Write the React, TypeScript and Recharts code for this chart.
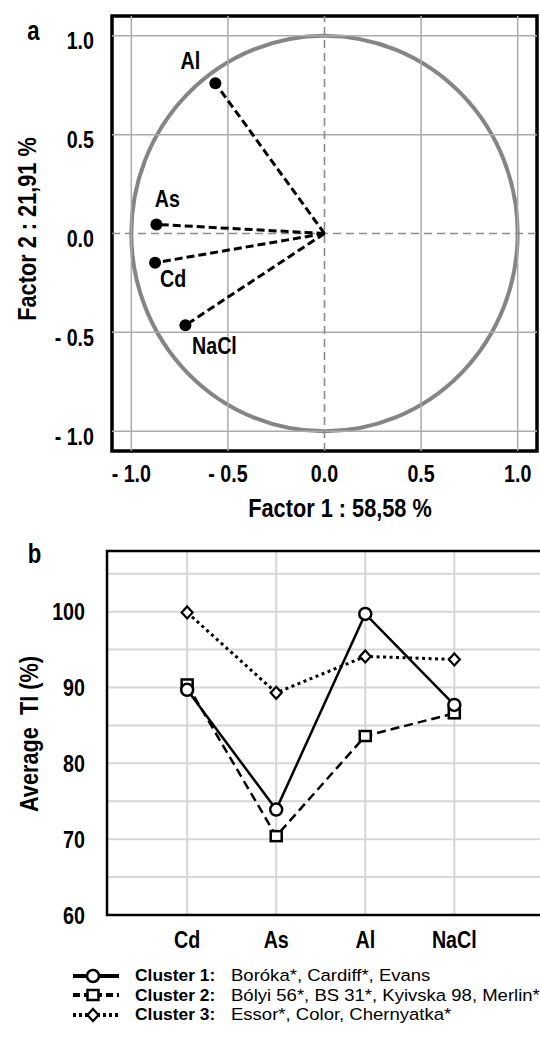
import React from 'react'
import {
  ScatterChart,
  Scatter,
  LineChart,
  Line,
  XAxis,
  YAxis,
  CartesianGrid,
  ReferenceLine,
  ReferenceArea,
} from 'recharts'

// panel a: factor loadings
const VARIABLES = ['Al', 'As', 'Cd', 'NaCl']
const FACTOR_1 = [-0.565, -0.87, -0.877, -0.72]
const FACTOR_2 = [0.76, 0.046, -0.148, -0.464]
const PCA_TICKS = [-1, -0.5, 0, 0.5, 1]

// panel b: average tolerance index per cluster
const STRESSES = ['Cd', 'As', 'Al', 'NaCl']
const CLUSTER_1 = [89.7, 73.9, 99.7, 87.7]
const CLUSTER_2 = [90.4, 70.4, 83.6, 86.6]
const CLUSTER_3 = [99.9, 89.3, 94.1, 93.7]
const TI_TICKS = [60, 65, 70, 75, 80, 85, 90, 95, 100, 105]
const CLUSTER_NAMES = ['Cluster 1:', 'Cluster 2:', 'Cluster 3:']
const CLUSTER_MEMBERS = [
  'Boróka*, Cardiff*, Evans',
  'Bólyi 56*, BS 31*, Kyivska 98, Merlin*',
  'Essor*, Color, Chernyatka*',
]

// no narrow face installed, so bold text gets squeezed horizontally
const FONT = '"Liberation Sans", Arial, sans-serif'
const NARROW = 0.82
const LABEL_OFFSETS: Record<string, [number, number]> = {
  Al: [-25, -23],
  As: [11, -26],
  Cd: [18, 16],
  NaCl: [29, 20],
}

const loadings = VARIABLES.map((name, i) => ({ name, x: FACTOR_1[i], y: FACTOR_2[i] }))
const tiRows = STRESSES.map((name, i) => ({
  pos: i + 1,
  name,
  c1: CLUSTER_1[i],
  c2: CLUSTER_2[i],
  c3: CLUSTER_3[i],
}))

const SERIES = [
  { key: 'c1', dash: undefined as string | undefined, width: 2.5, marker: 'circle' },
  { key: 'c2', dash: '9 5', width: 2.5, marker: 'square' },
  { key: 'c3', dash: '3 3.5', width: 3, marker: 'diamond' },
]

const fmtPca = (v: number) => (v < 0 ? `- ${Math.abs(v).toFixed(1)}` : v.toFixed(1))

function NarrowText({
  x,
  y,
  size,
  anchor = 'middle',
  angle = 0,
  dy = '0',
  children,
}: {
  x: number
  y: number
  size: number
  anchor?: string
  angle?: number
  dy?: string
  children: React.ReactNode
}) {
  return (
    <g transform={`translate(${x},${y}) rotate(${angle}) scale(${NARROW},1)`}>
      <text
        x={0}
        y={0}
        dy={dy}
        textAnchor={anchor as any}
        fontSize={size}
        fontWeight={700}
        fontFamily={FONT}
        fill="#000"
      >
        {children}
      </text>
    </g>
  )
}

const bottomTick = (fmt: (v: number) => string) => (p: any) => (
  <NarrowText key={`bt${p.index}`} x={p.x} y={p.y} size={24} dy="0.72em">
    {fmt(p.payload.value)}
  </NarrowText>
)

const leftTick = (fmt: (v: number) => string, shift: number) => (p: any) => (
  <NarrowText key={`lt${p.index}`} x={p.x} y={p.y + shift} size={24} anchor="end" dy="0.36em">
    {fmt(p.payload.value)}
  </NarrowText>
)

function Marker({ kind, cx, cy }: { kind: string; cx: number; cy: number }) {
  const common = { fill: '#fff', stroke: '#000', strokeWidth: 2.5 }
  if (kind === 'circle') return <circle cx={cx} cy={cy} r={6} {...common} />
  if (kind === 'square') return <rect x={cx - 5.5} y={cy - 5} width={11} height={10} {...common} />
  return (
    <polygon
      points={`${cx},${cy - 6} ${cx + 5.5},${cy} ${cx},${cy + 6} ${cx - 5.5},${cy}`}
      {...common}
      strokeWidth={2.2}
    />
  )
}

const renderLoading = (p: any) => {
  const [dx, dy] = LABEL_OFFSETS[p.payload.name] ?? [0, -20]
  return (
    <g>
      <circle cx={p.cx} cy={p.cy} r={6} fill="#000" />
      <NarrowText x={p.cx + dx} y={p.cy + dy} size={24} dy="0.36em">
        {p.payload.name}
      </NarrowText>
    </g>
  )
}

function PanelA() {
  return (
    <ScatterChart width={540} height={521} margin={{ top: 16, right: 3, left: 32, bottom: 0 }}>
      <XAxis
        type="number"
        dataKey="x"
        domain={[-1.1, 1.1]}
        ticks={PCA_TICKS}
        axisLine={false}
        tickLine={false}
        tickSize={0}
        tickMargin={14}
        height={70}
        tick={bottomTick(fmtPca)}
      />
      <YAxis
        type="number"
        dataKey="y"
        domain={[-1.1, 1.1]}
        ticks={PCA_TICKS}
        axisLine={false}
        tickLine={false}
        tickSize={0}
        tickMargin={18}
        width={80}
        tick={leftTick(fmtPca, 5)}
      />
      {PCA_TICKS.filter((t) => t !== 0).map((t) => (
        <ReferenceLine key={`gx${t}`} x={t} stroke="#ababab" strokeWidth={1.5} />
      ))}
      {PCA_TICKS.filter((t) => t !== 0).map((t) => (
        <ReferenceLine key={`gy${t}`} y={t} stroke="#ababab" strokeWidth={1.5} />
      ))}
      <ReferenceLine x={0} stroke="#8c8c8c" strokeWidth={1.6} strokeDasharray="8 5" />
      <ReferenceLine y={0} stroke="#8c8c8c" strokeWidth={1.6} strokeDasharray="8 5" />
      <ReferenceArea
        x1={-1}
        x2={1}
        y1={-1}
        y2={1}
        shape={(p: any) => (
          <ellipse
            cx={p.x + p.width / 2}
            cy={p.y + p.height / 2}
            rx={p.width / 2}
            ry={p.height / 2}
            fill="none"
            stroke="#858585"
            strokeWidth={4}
          />
        )}
      />
      <ReferenceArea
        x1={-1.1}
        x2={1.1}
        y1={-1.1}
        y2={1.1}
        fill="none"
        fillOpacity={0}
        stroke="#000"
        strokeWidth={3.5}
      />
      {loadings.map((d) => (
        <ReferenceLine
          key={`v${d.name}`}
          segment={[
            { x: 0, y: 0 },
            { x: d.x, y: d.y },
          ]}
          stroke="#000"
          strokeWidth={3}
          strokeDasharray="8 4"
        />
      ))}
      <Scatter data={loadings} isAnimationActive={false} shape={renderLoading} />
    </ScatterChart>
  )
}

function PanelB() {
  return (
    <LineChart width={600} height={415} data={tiRows} margin={{ top: 11, right: 21, left: 27, bottom: 0 }}>
      <CartesianGrid stroke="#d6d6d6" strokeWidth={2} />
      <XAxis
        type="number"
        dataKey="pos"
        domain={[0.1, 5.4]}
        ticks={[1, 2, 3, 4]}
        axisLine={false}
        tickLine={false}
        tickSize={0}
        tickMargin={16}
        height={40}
        tick={bottomTick((v) => STRESSES[v - 1] ?? '')}
      />
      <YAxis
        type="number"
        domain={[60, 108]}
        ticks={TI_TICKS}
        axisLine={false}
        tickLine={false}
        tickSize={0}
        tickMargin={22}
        width={80}
        tick={leftTick((v) => (v % 10 === 0 ? String(v) : ''), 0)}
      />
      <ReferenceArea
        x1={0.1}
        x2={5.4}
        y1={60}
        y2={108}
        fill="none"
        fillOpacity={0}
        stroke="#000"
        strokeWidth={2.5}
      />
      {[SERIES[2], SERIES[1], SERIES[0]].map((s) => (
        <Line
          key={s.key}
          dataKey={s.key}
          type="linear"
          stroke="#000"
          strokeWidth={s.width}
          strokeDasharray={s.dash}
          isAnimationActive={false}
          dot={(p: any) => <Marker key={`${s.key}${p.index}`} kind={s.marker} cx={p.cx} cy={p.cy} />}
        />
      ))}
    </LineChart>
  )
}

function LegendIcon({ index }: { index: number }) {
  const s = SERIES[index]
  return (
    <svg width={50} height={16} style={{ display: 'block', flex: 'none' }}>
      <line
        x1={2}
        x2={48}
        y1={8}
        y2={8}
        stroke="#000"
        strokeWidth={4}
        strokeDasharray={index === 0 ? undefined : index === 1 ? '7 4' : '3 3'}
      />
      <Marker kind={s.marker} cx={22} cy={8} />
    </svg>
  )
}

export default function App() {
  return (
    <div
      style={{
        position: 'absolute',
        left: 0,
        top: 0,
        width: 540,
        height: 1042,
        overflow: 'hidden',
        background: '#fff',
        fontFamily: FONT,
      }}
    >
      <div style={{ position: 'absolute', left: 0, top: 0 }}>
        <PanelA />
      </div>
      <div style={{ position: 'absolute', left: 0, top: 540 }}>
        <PanelB />
      </div>
      <svg width={540} height={1042} style={{ position: 'absolute', left: 0, top: 0, pointerEvents: 'none' }}>
        <NarrowText x={33.5} y={40} size={27}>
          a
        </NarrowText>
        <NarrowText x={34.5} y={563} size={27}>
          b
        </NarrowText>
        <NarrowText x={340} y={517} size={26.5}>
          Factor 1 : 58,58 %
        </NarrowText>
        <NarrowText x={26} y={229} size={26.5} angle={-90} dy="0.36em">
          Factor 2 : 21,91 %
        </NarrowText>
        <NarrowText x={28} y={734} size={26.5} angle={-90} dy="0.36em">
          {'Average\u00A0 TI (%)'}
        </NarrowText>
      </svg>
      {CLUSTER_NAMES.map((name, i) => (
        <div
          key={name}
          style={{
            position: 'absolute',
            left: 71,
            top: 966 + i * 19.5,
            height: 19.5,
            lineHeight: '19.5px',
            display: 'flex',
            alignItems: 'center',
            whiteSpace: 'nowrap',
            fontSize: 17.4,
            color: '#000',
          }}
        >
          <LegendIcon index={i} />
          <span style={{ fontWeight: 700, marginLeft: 14, width: 96, flex: 'none', display: 'inline-block' }}>
            {name}
          </span>
          <span style={{ display: 'inline-block', transform: 'scaleX(1.065)', transformOrigin: 'left center' }}>
            {CLUSTER_MEMBERS[i]}
          </span>
        </div>
      ))}
    </div>
  )
}
